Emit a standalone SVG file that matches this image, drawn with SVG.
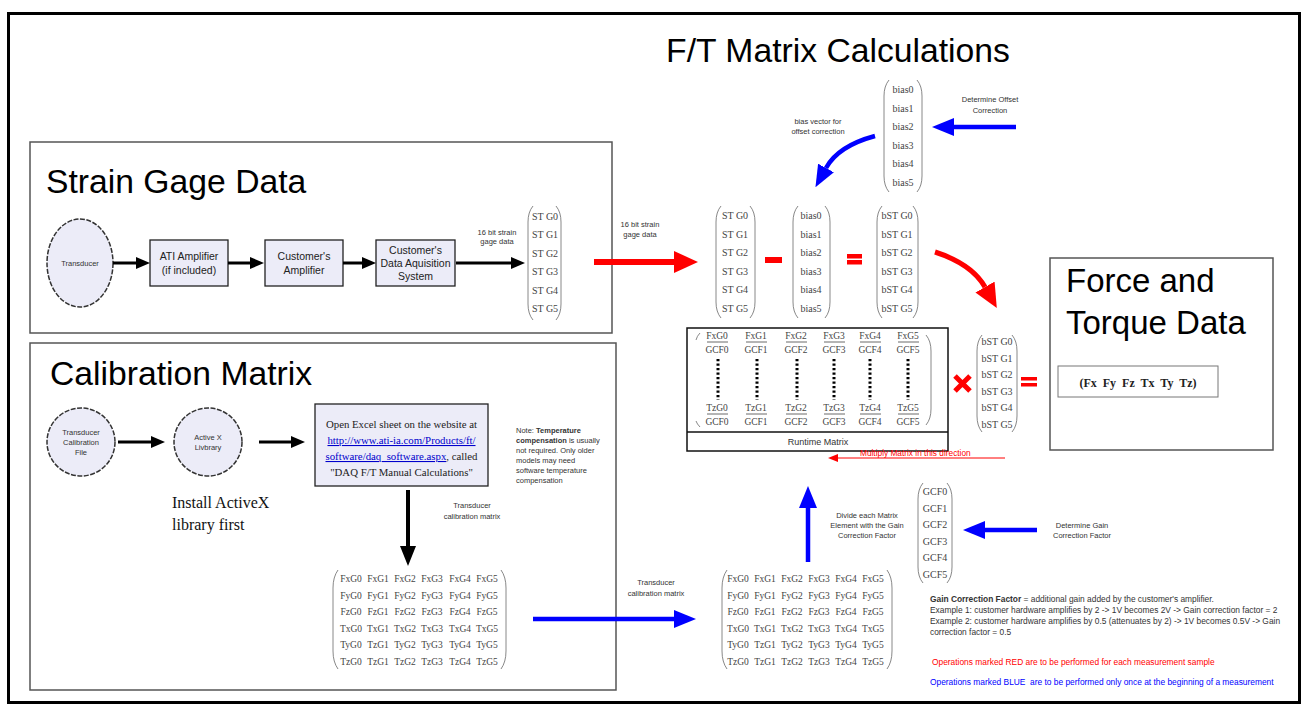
<svg xmlns="http://www.w3.org/2000/svg" width="1307" height="705" viewBox="0 0 1307 705">
<style>
.title{font-family:"Liberation Sans",Arial,sans-serif;font-size:33.7px;fill:#000}
.box{fill:#ececf8;stroke:#222;stroke-width:1.3}
.sec{fill:none;stroke:#555;stroke-width:1.5}
.bt{font-family:"Liberation Sans",Arial,sans-serif;font-size:10.5px;fill:#222;text-anchor:middle}
.sm{font-family:"Liberation Sans",Arial,sans-serif;font-size:7.5px;fill:#333;text-anchor:middle}
.lab{font-family:"Liberation Sans",Arial,sans-serif;font-size:8px;fill:#333;text-anchor:middle}
.v{font-family:"Liberation Serif","Times New Roman",serif;font-size:10px;fill:#444;text-anchor:middle}
.m{font-family:"Liberation Serif","Times New Roman",serif;font-size:9.5px;fill:#444;text-anchor:middle}
.br{fill:none;stroke:#888;stroke-width:1}
.circ{fill:#ececf8;stroke:#333;stroke-width:1.5;stroke-dasharray:5 1.5}
.ab{stroke:#000;stroke-width:3;fill:none}
.au{stroke:#0000ff;stroke-width:4.5;fill:none}
.ar{stroke:#ff0000;stroke-width:6;fill:none}
.info{font-family:"Liberation Sans",Arial,sans-serif;font-size:8.4px;fill:#333}
</style>
<defs>
<marker id="hb" markerUnits="userSpaceOnUse" markerWidth="14" markerHeight="12" refX="0" refY="6" orient="auto"><path d="M0,0 L14,6 L0,12 z" fill="#000"/></marker>
<marker id="hbl" markerUnits="userSpaceOnUse" markerWidth="20" markerHeight="16" refX="0" refY="8" orient="auto"><path d="M0,0 L20,8 L0,16 z" fill="#000"/></marker>
<marker id="hu" markerUnits="userSpaceOnUse" markerWidth="22" markerHeight="18" refX="0" refY="9" orient="auto"><path d="M0,0 L22,9 L0,18 z" fill="#0000ff"/></marker>
<marker id="hr" markerUnits="userSpaceOnUse" markerWidth="24" markerHeight="22" refX="0" refY="11" orient="auto"><path d="M0,0 L24,11 L0,22 z" fill="#ff0000"/></marker>
<marker id="hrs" markerUnits="userSpaceOnUse" markerWidth="10" markerHeight="8" refX="0" refY="4" orient="auto"><path d="M0,0 L10,4 L0,8 z" fill="#ff0000"/></marker>
</defs>
<rect width="1307" height="705" fill="#fff"/>
<rect x="8.5" y="13.5" width="1291" height="689" fill="none" stroke="#000" stroke-width="3"/>
<text class="title" x="838" y="62" text-anchor="middle">F/T Matrix Calculations</text>

<g id="strain-section">
<rect class="sec" x="30" y="142" width="582" height="191"/>
<text class="title" x="46" y="193">Strain Gage Data</text>
</g>
<g id="transducer">
<ellipse class="circ" cx="80" cy="263" rx="33" ry="44"/>
<text class="sm" x="80" y="266">Transducer</text>
</g>
<g id="ati-amp">
<rect class="box" x="150" y="240" width="78" height="46"/>
<text class="bt" x="189" y="260">ATI Amplifier</text>
<text class="bt" x="189" y="274">(if included)</text>
</g>
<g id="cust-amp">
<rect class="box" x="265" y="240" width="78" height="46"/>
<text class="bt" x="304" y="260">Customer's</text>
<text class="bt" x="304" y="274">Amplifier</text>
</g>
<g id="cust-daq">
<rect class="box" x="376" y="240" width="79" height="46"/>
<text class="bt" x="415.5" y="254">Customer's</text>
<text class="bt" x="415.5" y="267">Data Aquisition</text>
<text class="bt" x="415.5" y="280">System</text>
</g>
<g id="stg-vector-1">
<path class="br" d="M533 206 Q528 212 528 222 L528 304 Q528 314 533 320"/>
<path class="br" d="M556 206 Q561 212 561 222 L561 304 Q561 314 556 320"/>
<text class="v" x="545" y="219.5">ST G0</text>
<text class="v" x="545" y="238">ST G1</text>
<text class="v" x="545" y="256.5">ST G2</text>
<text class="v" x="545" y="275">ST G3</text>
<text class="v" x="545" y="293.5">ST G4</text>
<text class="v" x="545" y="312">ST G5</text>
</g>

<g id="calib-section">
<rect class="sec" x="30" y="343" width="586" height="347"/>
<text class="title" x="50" y="385">Calibration Matrix</text>
<text x="172" y="508" style="font-family:'Liberation Serif','Times New Roman',serif;font-size:16px;fill:#111">Install ActiveX</text>
<text x="172" y="530" style="font-family:'Liberation Serif','Times New Roman',serif;font-size:16px;fill:#111">library first</text>
</g>
<g id="calib-file">
<circle class="circ" cx="81" cy="442" r="34"/>
<text class="sm" x="81" y="435">Transducer</text>
<text class="sm" x="81" y="445">Calibration</text>
<text class="sm" x="81" y="455">File</text>
</g>
<g id="activex">
<circle class="circ" cx="208" cy="442" r="34"/>
<text class="sm" x="208" y="440">Active X</text>
<text class="sm" x="208" y="450">Livbrary</text>
</g>
<g id="excel-box">
<rect class="box" x="315" y="404" width="173" height="82"/>
<g style="font-family:'Liberation Serif','Times New Roman',serif;font-size:10.8px;fill:#222" text-anchor="middle">
<text x="401.5" y="428">Open Excel sheet on the website at</text>
<text x="401.5" y="444" fill="#0000cc" text-decoration="underline">http://www.ati-ia.com/Products/ft/</text>
<text x="401.5" y="460"><tspan fill="#0000cc" text-decoration="underline">software/daq_software.aspx</tspan>, called</text>
<text x="401.5" y="476">"DAQ F/T Manual Calculations"</text>
</g>
</g>
<g id="temp-note" class="info" style="font-size:7.5px">
<text x="516" y="433">Note: <tspan font-weight="bold">Temperature</tspan></text>
<text x="516" y="443"><tspan font-weight="bold">compensation</tspan> is usually</text>
<text x="516" y="453">not required. Only older</text>
<text x="516" y="463">models may need</text>
<text x="516" y="473">software temperature</text>
<text x="516" y="483">compensation</text>
</g>
<g id="calib-matrix-1">
<path class="br" d="M338 570 Q333 577 333 588 L333 651 Q333 662 338 669"/>
<path class="br" d="M501 570 Q506 577 506 588 L506 651 Q506 662 501 669"/>
<text class="m" y="582"><tspan x="351">FxG0</tspan><tspan x="378">FxG1</tspan><tspan x="405">FxG2</tspan><tspan x="432">FxG3</tspan><tspan x="460">FxG4</tspan><tspan x="487">FxG5</tspan></text>
<text class="m" y="598.5"><tspan x="351">FyG0</tspan><tspan x="378">FyG1</tspan><tspan x="405">FyG2</tspan><tspan x="432">FyG3</tspan><tspan x="460">FyG4</tspan><tspan x="487">FyG5</tspan></text>
<text class="m" y="615"><tspan x="351">FzG0</tspan><tspan x="378">FzG1</tspan><tspan x="405">FzG2</tspan><tspan x="432">FzG3</tspan><tspan x="460">FzG4</tspan><tspan x="487">FzG5</tspan></text>
<text class="m" y="631.5"><tspan x="351">TxG0</tspan><tspan x="378">TxG1</tspan><tspan x="405">TxG2</tspan><tspan x="432">TxG3</tspan><tspan x="460">TxG4</tspan><tspan x="487">TxG5</tspan></text>
<text class="m" y="648"><tspan x="351">TyG0</tspan><tspan x="378">TzG1</tspan><tspan x="405">TyG2</tspan><tspan x="432">TyG3</tspan><tspan x="460">TyG4</tspan><tspan x="487">TyG5</tspan></text>
<text class="m" y="664.5"><tspan x="351">TzG0</tspan><tspan x="378">TzG1</tspan><tspan x="405">TzG2</tspan><tspan x="432">TzG3</tspan><tspan x="460">TzG4</tspan><tspan x="487">TzG5</tspan></text>
</g>

<g id="bias-top">
<path class="br" d="M889 80 Q884 86 884 96 L884 176 Q884 186 889 192"/>
<path class="br" d="M917 80 Q922 86 922 96 L922 176 Q922 186 917 192"/>
<text class="v" x="903" y="93">bias0</text>
<text class="v" x="903" y="111.5">bias1</text>
<text class="v" x="903" y="130">bias2</text>
<text class="v" x="903" y="148.5">bias3</text>
<text class="v" x="903" y="167">bias4</text>
<text class="v" x="903" y="185.5">bias5</text>
</g>
<g id="stg-vector-2">
<path class="br" d="M721 206 Q716 212 716 222 L716 302 Q716 312 721 318"/>
<path class="br" d="M750 206 Q755 212 755 222 L755 302 Q755 312 750 318"/>
<text class="v" x="735" y="219">ST G0</text>
<text class="v" x="735" y="237.5">ST G1</text>
<text class="v" x="735" y="256">ST G2</text>
<text class="v" x="735" y="274.5">ST G3</text>
<text class="v" x="735" y="293">ST G4</text>
<text class="v" x="735" y="311.5">ST G5</text>
</g>
<g id="bias-mid">
<path class="br" d="M798 206 Q793 212 793 222 L793 302 Q793 312 798 318"/>
<path class="br" d="M825 206 Q830 212 830 222 L830 302 Q830 312 825 318"/>
<text class="v" x="811" y="219">bias0</text>
<text class="v" x="811" y="237.5">bias1</text>
<text class="v" x="811" y="256">bias2</text>
<text class="v" x="811" y="274.5">bias3</text>
<text class="v" x="811" y="293">bias4</text>
<text class="v" x="811" y="311.5">bias5</text>
</g>
<g id="bstg-mid">
<path class="br" d="M882 206 Q877 212 877 222 L877 302 Q877 312 882 318"/>
<path class="br" d="M913 206 Q918 212 918 222 L918 302 Q918 312 913 318"/>
<text class="v" x="897" y="219">bST G0</text>
<text class="v" x="897" y="237.5">bST G1</text>
<text class="v" x="897" y="256">bST G2</text>
<text class="v" x="897" y="274.5">bST G3</text>
<text class="v" x="897" y="293">bST G4</text>
<text class="v" x="897" y="311.5">bST G5</text>
</g>
<g id="ops-mid" fill="#ff0000">
<rect x="765" y="257" width="17" height="6"/>
<rect x="847" y="254" width="15" height="4.5"/>
<rect x="847" y="260" width="15" height="4.5"/>
</g>

<g id="runtime-matrix">
<rect x="687" y="328" width="261" height="123" fill="#fff" stroke="#111" stroke-width="1.5"/>
<line x1="687" y1="432" x2="948" y2="432" stroke="#111" stroke-width="1.5"/>
<text class="lab" x="818" y="445" style="font-size:9px">Runtime Matrix</text>
<path class="br" d="M700 333 Q697 336 696 340"/>
<path class="br" d="M696 421 Q697 424 700 427"/>
<path class="br" d="M926 335 Q931 341 931 351 L931 409 Q931 419 926 425"/>
<g class="m">
<text y="339"><tspan x="717">FxG0</tspan><tspan x="756">FxG1</tspan><tspan x="796">FxG2</tspan><tspan x="834">FxG3</tspan><tspan x="870">FxG4</tspan><tspan x="908">FxG5</tspan></text>
<text y="353"><tspan x="717">GCF0</tspan><tspan x="756">GCF1</tspan><tspan x="796">GCF2</tspan><tspan x="834">GCF3</tspan><tspan x="870">GCF4</tspan><tspan x="908">GCF5</tspan></text>
<text y="411"><tspan x="717">TzG0</tspan><tspan x="756">TzG1</tspan><tspan x="796">TzG2</tspan><tspan x="834">TzG3</tspan><tspan x="870">TzG4</tspan><tspan x="908">TzG5</tspan></text>
<text y="425"><tspan x="717">GCF0</tspan><tspan x="756">GCF1</tspan><tspan x="796">GCF2</tspan><tspan x="834">GCF3</tspan><tspan x="870">GCF4</tspan><tspan x="908">GCF5</tspan></text>
</g>
<g stroke="#444" stroke-width="0.8">
<line x1="707" y1="342" x2="728" y2="342"/><line x1="746" y1="342" x2="767" y2="342"/><line x1="786" y1="342" x2="807" y2="342"/><line x1="824" y1="342" x2="845" y2="342"/><line x1="860" y1="342" x2="881" y2="342"/><line x1="898" y1="342" x2="919" y2="342"/>
<line x1="707" y1="414" x2="728" y2="414"/><line x1="746" y1="414" x2="767" y2="414"/><line x1="786" y1="414" x2="807" y2="414"/><line x1="824" y1="414" x2="845" y2="414"/><line x1="860" y1="414" x2="881" y2="414"/><line x1="898" y1="414" x2="919" y2="414"/>
</g>
<g stroke="#000" stroke-width="3" stroke-dasharray="2.2 2.3">
<line x1="718" y1="359" x2="718" y2="400"/><line x1="757" y1="359" x2="757" y2="400"/><line x1="797" y1="359" x2="797" y2="400"/><line x1="834" y1="359" x2="834" y2="400"/><line x1="870" y1="359" x2="870" y2="400"/><line x1="908" y1="359" x2="908" y2="400"/>
</g>
</g>
<g id="bstg-rt">
<path class="br" d="M982 335 Q977 341 977 351 L977 416 Q977 426 982 432"/>
<path class="br" d="M1012 335 Q1017 341 1017 351 L1017 416 Q1017 426 1012 432"/>
<text class="v" x="997" y="345">bST G0</text>
<text class="v" x="997" y="361.5">bST G1</text>
<text class="v" x="997" y="378">bST G2</text>
<text class="v" x="997" y="394.5">bST G3</text>
<text class="v" x="997" y="411">bST G4</text>
<text class="v" x="997" y="427.5">bST G5</text>
</g>
<g id="ops-rt">
<path d="M955 376 L970 391 M970 376 L955 391" stroke="#ff0000" stroke-width="5"/>
<rect x="1021" y="377" width="16" height="3.5" fill="#ff0000"/>
<rect x="1021" y="383" width="16" height="3.5" fill="#ff0000"/>
</g>

<g id="force-torque">
<rect class="sec" x="1050" y="258" width="223" height="192"/>
<text x="1066" y="292" style="font-family:'Liberation Sans',Arial,sans-serif;font-size:33px;fill:#000">Force and</text>
<text x="1066" y="334" style="font-family:'Liberation Sans',Arial,sans-serif;font-size:33px;fill:#000">Torque Data</text>
<rect x="1058" y="366" width="160" height="31" fill="#fff" stroke="#777" stroke-width="1"/>
<text x="1138" y="387" text-anchor="middle" style="font-family:'Liberation Serif','Times New Roman',serif;font-size:12px;font-weight:bold;fill:#222" xml:space="preserve">(Fx  Fy  Fz  Tx  Ty  Tz)</text>
</g>

<g id="gcf-vector">
<path class="br" d="M923 483 Q918 489 918 499 L918 567 Q918 577 923 583"/>
<path class="br" d="M947 483 Q952 489 952 499 L952 567 Q952 577 947 583"/>
<text class="v" x="935" y="495">GCF0</text>
<text class="v" x="935" y="511.5">GCF1</text>
<text class="v" x="935" y="528">GCF2</text>
<text class="v" x="935" y="544.5">GCF3</text>
<text class="v" x="935" y="561">GCF4</text>
<text class="v" x="935" y="577.5">GCF5</text>
</g>
<g id="calib-matrix-2">
<path class="br" d="M727 570 Q722 577 722 588 L722 651 Q722 662 727 669"/>
<path class="br" d="M887 570 Q892 577 892 588 L892 651 Q892 662 887 669"/>
<text class="m" y="582"><tspan x="738">FxG0</tspan><tspan x="765">FxG1</tspan><tspan x="792">FxG2</tspan><tspan x="819">FxG3</tspan><tspan x="846">FxG4</tspan><tspan x="873">FxG5</tspan></text>
<text class="m" y="598.5"><tspan x="738">FyG0</tspan><tspan x="765">FyG1</tspan><tspan x="792">FyG2</tspan><tspan x="819">FyG3</tspan><tspan x="846">FyG4</tspan><tspan x="873">FyG5</tspan></text>
<text class="m" y="615"><tspan x="738">FzG0</tspan><tspan x="765">FzG1</tspan><tspan x="792">FzG2</tspan><tspan x="819">FzG3</tspan><tspan x="846">FzG4</tspan><tspan x="873">FzG5</tspan></text>
<text class="m" y="631.5"><tspan x="738">TxG0</tspan><tspan x="765">TxG1</tspan><tspan x="792">TxG2</tspan><tspan x="819">TxG3</tspan><tspan x="846">TxG4</tspan><tspan x="873">TxG5</tspan></text>
<text class="m" y="648"><tspan x="738">TyG0</tspan><tspan x="765">TzG1</tspan><tspan x="792">TyG2</tspan><tspan x="819">TyG3</tspan><tspan x="846">TyG4</tspan><tspan x="873">TyG5</tspan></text>
<text class="m" y="664.5"><tspan x="738">TzG0</tspan><tspan x="765">TzG1</tspan><tspan x="792">TzG2</tspan><tspan x="819">TzG3</tspan><tspan x="846">TzG4</tspan><tspan x="873">TzG5</tspan></text>
</g>

<g id="notes" class="info">
<text x="930" y="602"><tspan font-weight="bold">Gain Correction Factor</tspan> = additional gain added by the customer's amplifier.</text>
<text x="930" y="613">Example 1: customer hardware amplifies by 2 -&gt; 1V becomes 2V -&gt; Gain correction factor = 2</text>
<text x="930" y="624">Example 2: customer hardware amplifies by 0.5 (attenuates by 2) -&gt;  1V becomes 0.5V -&gt; Gain</text>
<text x="930" y="635">correction factor = 0.5</text>
<text x="932" y="665" fill="#ff0000">Operations marked RED are to be performed for each measurement sample</text>
<text x="930" y="685" fill="#0000ff" xml:space="preserve">Operations marked BLUE  are to be performed only once at the beginning of a measurement</text>
</g>

<g id="connectors">
<line class="ab" x1="113" y1="263" x2="136" y2="263" marker-end="url(#hb)"/>
<line class="ab" x1="228" y1="263" x2="250" y2="263" marker-end="url(#hb)"/>
<line class="ab" x1="343" y1="263" x2="362" y2="263" marker-end="url(#hb)"/>
<line class="ab" x1="456" y1="263" x2="511" y2="263" marker-end="url(#hb)"/>
<line class="ab" x1="118" y1="442" x2="151" y2="442" marker-end="url(#hb)"/>
<line class="ab" x1="259" y1="442" x2="291" y2="442" marker-end="url(#hb)"/>
<line class="ab" style="stroke-width:4" x1="408" y1="490" x2="408" y2="546" marker-end="url(#hbl)"/>
<line class="ar" x1="594" y1="262" x2="674" y2="262" marker-end="url(#hr)"/>
<path class="ar" style="stroke-width:5" d="M935 252 Q972 264 985 287" marker-end="url(#hr)"/>
<line x1="1005" y1="458" x2="838" y2="458" stroke="#ff0000" stroke-width="1" marker-end="url(#hrs)"/>
<line class="au" x1="1016" y1="127" x2="954" y2="127" marker-end="url(#hu)"/>
<path class="au" d="M875 136 Q838 146 826 168" marker-end="url(#hu)"/>
<line class="au" x1="1037" y1="530" x2="985" y2="530" marker-end="url(#hu)"/>
<line class="au" x1="808" y1="562" x2="808" y2="508" marker-end="url(#hu)"/>
<line class="au" x1="533" y1="619" x2="674" y2="619" marker-end="url(#hu)"/>
</g>

<g id="labels">
<text class="sm" x="497" y="235">16 bit strain</text>
<text class="sm" x="497" y="244">gage data</text>
<text class="sm" x="640" y="227">16 bit strain</text>
<text class="sm" x="640" y="237">gage data</text>
<text class="sm" x="818" y="124">bias vector for</text>
<text class="sm" x="818" y="134">offset correction</text>
<text class="sm" x="990" y="102">Determine Offset</text>
<text class="sm" x="990" y="113">Correction</text>
<text class="sm" x="867" y="518">Divide each Matrix</text>
<text class="sm" x="867" y="528">Element with the Gain</text>
<text class="sm" x="867" y="538">Correction Factor</text>
<text class="sm" x="1082" y="528">Determine Gain</text>
<text class="sm" x="1082" y="538">Correction Factor</text>
<text class="sm" x="472" y="508">Transducer</text>
<text class="sm" x="472" y="519">calibration matrix</text>
<text class="sm" x="656" y="585">Transducer</text>
<text class="sm" x="656" y="596">calibration matrix</text>
<text x="860" y="456" style="font-family:'Liberation Sans',Arial,sans-serif;font-size:8.3px;fill:#ff0000">Multiply Matrix in this direction</text>
</g>
</svg>
